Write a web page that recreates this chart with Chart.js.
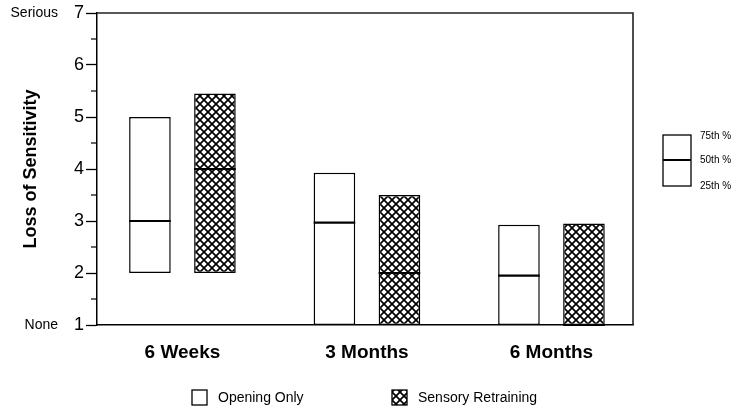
<!DOCTYPE html>
<html>
<head>
<meta charset="utf-8">
<script src="https://cdn.jsdelivr.net/npm/chart.js@4/dist/chart.umd.min.js"></script>
<style>
  html, body { margin: 0; padding: 0; background: #fff; }
  #c { display: block; }
</style>
</head>
<body>
<canvas id="c" width="750" height="414"></canvas>
<script>
// ---------- data ----------
const categories = ['6 Weeks', '3 Months', '6 Months'];
const seriesNames = ['Opening Only', 'Sensory Retraining'];
const openingQ1 = [2, 1, 1];
const openingMedian = [3, 2.97, 1.95];
const openingQ3 = [5, 3.93, 2.93];
const sensoryQ1 = [2, 1, 1];
const sensoryMedian = [4, 2, 1];
const sensoryQ3 = [5.45, 3.5, 2.95];
const yMin = 1, yMax = 7;
const yEndLabels = { 1: 'None', 7: 'Serious' };
const percentileLabels = ['75th %', '50th %', '25th %'];
const yTitle = 'Loss of Sensitivity';

// ---------- hatch pattern ----------
function makeHatch() {
  const s = 8;
  const pc = document.createElement('canvas');
  pc.width = s; pc.height = s;
  const g = pc.getContext('2d');
  g.fillStyle = '#fff';
  g.fillRect(0, 0, s, s);
  g.strokeStyle = '#000';
  g.lineWidth = 1.7;
  g.beginPath();
  g.moveTo(-1, -1); g.lineTo(s + 1, s + 1);
  g.moveTo(s + 1, -1); g.lineTo(-1, s + 1);
  g.stroke();
  return g.createPattern(pc, 'repeat');
}
const hatch = makeHatch();

const medians = [openingMedian, sensoryMedian];

const toData = (q1, q3) => categories.map((c, i) => ({ x: i + 1, y: [q1[i], q3[i]] }));

const decorPlugin = {
  id: 'decor',
  afterDraw(chart) {
    const ctx = chart.ctx;
    const a = chart.chartArea;
    const ys = chart.scales.y;
    ctx.save();
    // top & right border
    ctx.strokeStyle = '#222';
    ctx.lineWidth = 1.6;
    ctx.beginPath();
    ctx.moveTo(a.left, a.top);
    ctx.lineTo(a.right, a.top);
    ctx.lineTo(a.right, a.bottom);
    ctx.stroke();
    // minor ticks
    ctx.strokeStyle = '#000';
    ctx.lineWidth = 1.2;
    for (let v = yMin + 0.5; v < yMax; v += 1) {
      const y = ys.getPixelForValue(v);
      ctx.beginPath();
      ctx.moveTo(a.left - 6, y);
      ctx.lineTo(a.left, y);
      ctx.stroke();
    }
    // end labels
    ctx.fillStyle = '#000';
    ctx.font = '14px Arial, "Liberation Sans", sans-serif';
    ctx.textAlign = 'right';
    ctx.textBaseline = 'middle';
    Object.keys(yEndLabels).forEach(k => {
      ctx.fillText(yEndLabels[k], 58, ys.getPixelForValue(+k));
    });
    // right percentile legend
    const lx = 663, lw = 28, ltop = 135, lbot = 186, lmid = 160;
    ctx.strokeStyle = '#000';
    ctx.lineWidth = 1.3;
    ctx.strokeRect(lx, ltop, lw, lbot - ltop);
    ctx.lineWidth = 2;
    ctx.beginPath();
    ctx.moveTo(lx, lmid); ctx.lineTo(lx + lw, lmid);
    ctx.stroke();
    ctx.font = '10px Arial, "Liberation Sans", sans-serif';
    ctx.textAlign = 'left';
    [ltop + 1, lmid, lbot].forEach((y, i) => ctx.fillText(percentileLabels[i], 700, y));
    // bottom legend
    const boxes = [{ x: 192, fill: '#fff' }, { x: 392, fill: hatch }];
    ctx.font = '14px Arial, "Liberation Sans", sans-serif';
    boxes.forEach((b, i) => {
      ctx.fillStyle = b.fill;
      ctx.fillRect(b.x, 390, 15, 15);
      ctx.strokeStyle = '#000';
      ctx.lineWidth = 1.3;
      ctx.strokeRect(b.x, 390, 15, 15);
      ctx.fillStyle = '#000';
      ctx.fillText(seriesNames[i], b.x + 26, 398);
    });
    ctx.restore();
  },
  afterDatasetsDraw(chart) {
    const ctx = chart.ctx;
    const ys = chart.scales.y;
    ctx.save();
    ctx.strokeStyle = '#000';
    ctx.lineWidth = 2.2;
    chart.data.datasets.forEach((ds, i) => {
      const meta = chart.getDatasetMeta(i);
      meta.data.forEach((el, j) => {
        const y = ys.getPixelForValue(medians[i][j]);
        ctx.beginPath();
        ctx.moveTo(el.x - el.width / 2, y);
        ctx.lineTo(el.x + el.width / 2, y);
        ctx.stroke();
      });
    });
    ctx.restore();
  }
};

new Chart(document.getElementById('c'), {
  type: 'bar',
  data: {
    datasets: [
      {
        label: seriesNames[0],
        data: toData(openingQ1, openingQ3),
        backgroundColor: '#fff',
        borderColor: '#000',
        borderWidth: 1.5,
        borderSkipped: false,
        categoryPercentage: 0.7046,
        barPercentage: 0.64
      },
      {
        label: seriesNames[1],
        data: toData(sensoryQ1, sensoryQ3),
        backgroundColor: hatch,
        borderColor: '#000',
        borderWidth: 1.5,
        borderSkipped: false,
        categoryPercentage: 0.7046,
        barPercentage: 0.64
      }
    ]
  },
  options: {
    responsive: false,
    animation: false,
    devicePixelRatio: 1,
    layout: { padding: { left: 0, top: 13, right: 117, bottom: 0 } },
    plugins: { legend: { display: false }, tooltip: { enabled: false } },
    scales: {
      x: {
        type: 'linear',
        offset: false,
        min: 0.537,
        max: 3.442,
        afterBuildTicks: s => { s.ticks = categories.map((c, i) => ({ value: i + 1 })); },
        afterFit: s => { s.height = 89; },
        grid: { display: false, drawTicks: false, offset: false },
        border: { display: true, color: '#000', width: 1.5 },
        ticks: {
          callback: v => categories[v - 1],
          color: '#000',
          padding: 16,
          maxRotation: 0,
          autoSkip: false,
          font: { family: 'Arial, "Liberation Sans", sans-serif', size: 19, weight: 'bold' }
        }
      },
      y: {
        min: yMin,
        max: yMax,
        afterFit: s => { s.width = 97; },
        grid: { drawOnChartArea: false, drawTicks: true, tickLength: 11, color: '#000', tickWidth: 1.3 },
        border: { display: true, color: '#000', width: 1.5 },
        ticks: {
          stepSize: 1,
          color: '#000',
          padding: 2,
          font: { family: 'Arial, "Liberation Sans", sans-serif', size: 18 }
        },
        title: {
          display: true,
          text: yTitle,
          color: '#000',
          padding: { top: 20, bottom: 0 },
          font: { family: 'Arial, "Liberation Sans", sans-serif', size: 18, weight: 'bold' }
        }
      }
    }
  },
  plugins: [decorPlugin]
});
</script>
</body>
</html>
